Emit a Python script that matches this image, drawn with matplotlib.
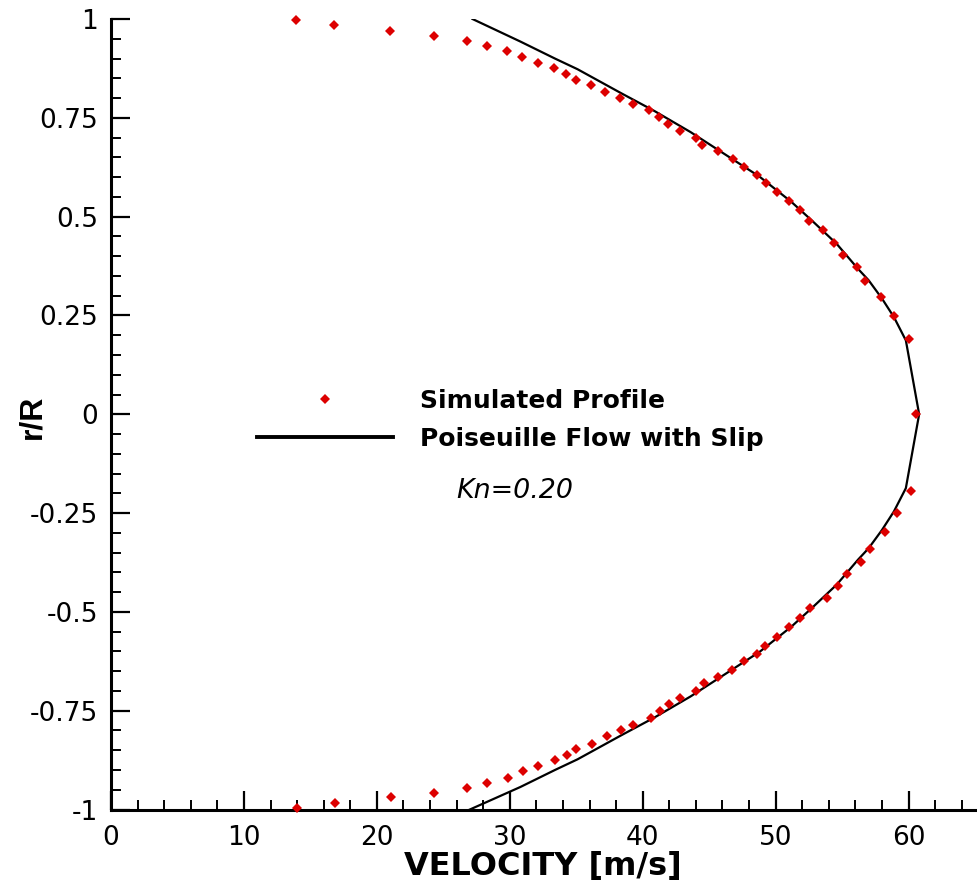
import matplotlib
matplotlib.use("Agg")
import matplotlib.pyplot as plt
from matplotlib.lines import Line2D
from matplotlib.ticker import MultipleLocator, FixedLocator, FixedFormatter

plt.rcParams['font.family'] = ['DejaVu Sans']

# Simulated profile (upper half, centre, lower half)
sim_r_upper = [0.997, 0.984, 0.969, 0.957, 0.945, 0.932, 0.920, 0.903, 0.889, 0.876,
               0.861, 0.846, 0.833, 0.815, 0.799, 0.785, 0.769, 0.752, 0.734, 0.717,
               0.700, 0.681, 0.666, 0.646, 0.625, 0.606, 0.586, 0.563, 0.539, 0.516,
               0.490, 0.465, 0.434, 0.403, 0.373, 0.337, 0.297, 0.248, 0.191]
sim_u_upper = [13.9, 16.8, 21.0, 24.3, 26.8, 28.3, 29.8, 30.9, 32.1, 33.3,
               34.2, 35.0, 36.1, 37.2, 38.3, 39.3, 40.5, 41.2, 41.9, 42.8,
               44.0, 44.5, 45.7, 46.8, 47.6, 48.6, 49.3, 50.1, 51.0, 51.8,
               52.5, 53.6, 54.4, 55.1, 56.1, 56.7, 57.9, 58.9, 60.0]
sim_r_center = [0.0]
sim_u_center = [60.6]
sim_r_lower = [-0.997, -0.984, -0.969, -0.957, -0.945, -0.932, -0.920, -0.903, -0.889, -0.876,
               -0.861, -0.846, -0.833, -0.815, -0.799, -0.785, -0.769, -0.752, -0.734, -0.717,
               -0.700, -0.681, -0.666, -0.646, -0.625, -0.606, -0.586, -0.563, -0.539, -0.516,
               -0.490, -0.465, -0.434, -0.403, -0.373, -0.340, -0.299, -0.250, -0.193]
sim_u_lower = [14.0, 16.85, 21.1, 24.3, 26.8, 28.3, 29.85, 31.0, 32.1, 33.4,
               34.3, 35.0, 36.2, 37.3, 38.35, 39.3, 40.6, 41.3, 42.0, 42.8,
               44.0, 44.6, 45.7, 46.7, 47.6, 48.6, 49.2, 50.1, 51.0, 51.8,
               52.6, 53.9, 54.7, 55.4, 56.4, 57.1, 58.2, 59.1, 60.2]

# Poiseuille flow with slip
line_r = [1.0, 0.943, 0.900, 0.873, 0.812, 0.767, 0.714, 0.651, 0.601, 0.537, 0.488,
          0.431, 0.368, 0.339, 0.293, 0.246, 0.187, 0.0,
          -0.187, -0.246, -0.293, -0.339, -0.368, -0.431, -0.488, -0.537, -0.601,
          -0.651, -0.714, -0.767, -0.812, -0.873, -0.900, -0.943, -1.0]
line_u = [27.2, 30.8, 33.4, 35.1, 38.4, 40.9, 43.6, 46.5, 48.8, 51.2, 52.8,
          54.6, 56.2, 57.0, 58.0, 58.9, 59.8, 60.8,
          59.8, 58.9, 58.0, 57.0, 56.2, 54.6, 52.8, 51.2, 48.8,
          46.5, 43.6, 40.9, 38.4, 35.1, 33.4, 30.8, 27.0]

y_ticks = [-1, -0.75, -0.5, -0.25, 0, 0.25, 0.5, 0.75, 1]
y_tick_labels = ["-1", "-0.75", "-0.5", "-0.25", "0", "0.25", "0.5", "0.75", "1"]
x_ticks = [0, 10, 20, 30, 40, 50, 60]
x_tick_labels = ["0", "10", "20", "30", "40", "50", "60"]

red = '#dd0000'

fig = plt.figure(figsize=(9.78, 8.85), dpi=100)
ax = fig.add_axes([0.1135, 0.0853, 0.8834, 0.8932])

sim_u = sim_u_upper + sim_u_center + sim_u_lower
sim_r = sim_r_upper + sim_r_center + sim_r_lower
ax.plot(sim_u, sim_r, linestyle='none', marker='D', markersize=5.0,
        color=red, markeredgewidth=0, clip_on=False, zorder=3)
ax.plot(line_u, line_r, color='black', linewidth=1.6, zorder=2)

ax.set_xlim(0, 65)
ax.set_ylim(-1, 1)

for s in ['top', 'right']:
    ax.spines[s].set_visible(False)
for s in ['left', 'bottom']:
    ax.spines[s].set_linewidth(2.2)

ax.xaxis.set_major_locator(FixedLocator(x_ticks))
ax.xaxis.set_major_formatter(FixedFormatter(x_tick_labels))
ax.xaxis.set_minor_locator(MultipleLocator(2))
ax.yaxis.set_major_locator(FixedLocator(y_ticks))
ax.yaxis.set_major_formatter(FixedFormatter(y_tick_labels))
ax.yaxis.set_minor_locator(MultipleLocator(0.05))

ax.tick_params(which='major', direction='in', length=13.5, width=1.6, labelsize=19)
ax.tick_params(which='minor', direction='in', length=7, width=1.4)
ax.tick_params(axis='x', which='major', pad=11.0)
ax.tick_params(axis='y', which='major', pad=9.4)
ax.tick_params(top=False, right=False, which='both')

ax.set_xlabel("VELOCITY [m/s]", fontsize=23, fontweight='bold', labelpad=0)
ax.set_ylabel("r/R", fontsize=23, fontweight='bold',
              family=['Liberation Sans', 'DejaVu Sans'])
ax.yaxis.set_label_coords(-0.074, 0.497)

handles = [Line2D([], [], linestyle='none', marker='D', markersize=5.0,
                  color=red, markeredgewidth=0),
           Line2D([], [], color='black', linewidth=2.8)]
leg = ax.legend(handles, ["Simulated Profile", "Poiseuille Flow with Slip"],
                loc='upper left', bbox_to_anchor=(0.169, 0.532), frameon=False,
                prop={'weight': 'bold', 'size': 18}, handlelength=5.44,
                handletextpad=1.08, labelspacing=0.56, borderaxespad=0, borderpad=0)

ax.text(26.0, -0.195, "Kn=0.20", fontsize=19.4, fontstyle='italic',
        ha='left', va='center')

fig.savefig("out.png", dpi=100)
